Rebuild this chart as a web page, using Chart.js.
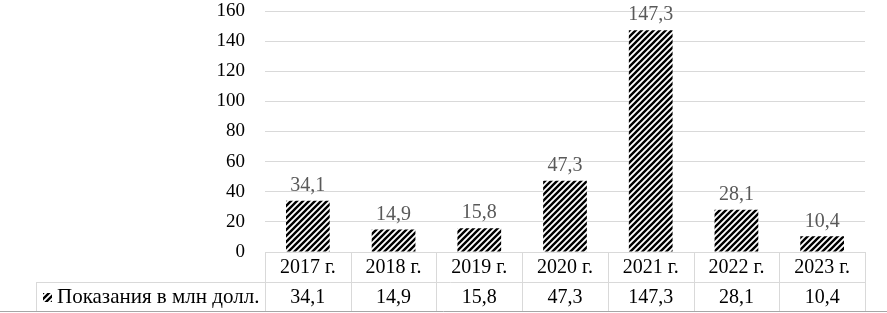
<!DOCTYPE html>
<html>
<head>
<meta charset="utf-8">
<script src="https://cdn.jsdelivr.net/npm/chart.js@4"></script>
<style>
  html, body { margin: 0; padding: 0; background: #fff; }
  #wrap { width: 887px; height: 313px; position: relative; }
</style>
</head>
<body>
<div id="wrap"><canvas id="chart_indications"></canvas></div>
<script>
// data
var years = ['2017 г.', '2018 г.', '2019 г.', '2020 г.', '2021 г.', '2022 г.', '2023 г.'];
var values = [34.1, 14.9, 15.8, 47.3, 147.3, 28.1, 10.4];
var seriesName = 'Показания в млн долл.';
var yTicks = [0, 20, 40, 60, 80, 100, 120, 140, 160];

var FONT = "'Liberation Serif', serif";
Chart.defaults.font.family = FONT;
Chart.defaults.font.size = 19;

function fmt(v) {
    return v.toFixed(1).replace('.', ',');
}

// black / white diagonal hatch, like the office "wide upward diagonal"
function makeHatch() {
    var c = document.createElement('canvas');
    c.width = 6; c.height = 6;
    var g = c.getContext('2d');
    g.fillStyle = '#fff';
    g.fillRect(0, 0, 6, 6);
    g.strokeStyle = '#000';
    g.lineWidth = 2.4;
    g.beginPath();
    g.moveTo(-1, 7); g.lineTo(7, -1);
    g.moveTo(-4, 4); g.lineTo(4, -4);
    g.moveTo(2, 10); g.lineTo(10, 2);
    g.stroke();
    return g.createPattern(c, 'repeat');
}
var hatch = makeHatch();

var tablePlugin = {
    id: 'dataTable',
    afterDraw: function (chart) {
        var ctx = chart.ctx;
        var area = chart.chartArea;
        var n = years.length;
        var cw = (area.right - area.left) / n;
        var r1top = area.bottom, r1bot = area.bottom + 30, r2bot = 311;
        var legLeft = 36;
        ctx.save();
        ctx.strokeStyle = '#d9d9d9';
        ctx.lineWidth = 1;
        ctx.beginPath();
        ctx.moveTo(area.left, r1top + 0.5); ctx.lineTo(area.right, r1top + 0.5);
        ctx.moveTo(legLeft, r1bot + 0.5); ctx.lineTo(area.right, r1bot + 0.5);
        for (var i = 0; i <= n; i++) {
            var x = Math.round(area.left + i * cw) + 0.5;
            ctx.moveTo(x, r1top); ctx.lineTo(x, r2bot);
        }
        ctx.moveTo(legLeft + 0.5, r1bot); ctx.lineTo(legLeft + 0.5, r2bot);
        ctx.stroke();

        // bottom rule
        ctx.strokeStyle = '#a6a6a6';
        ctx.beginPath();
        ctx.moveTo(0, r2bot + 0.5); ctx.lineTo(887, r2bot + 0.5);
        ctx.stroke();

        ctx.fillStyle = '#000';
        ctx.font = '20px ' + FONT;
        ctx.textAlign = 'center';
        ctx.textBaseline = 'middle';
        var xs = chart.scales.x;
        for (var j = 0; j < n; j++) {
            var cx = xs.getPixelForValue(j);
            ctx.fillText(years[j], cx, (r1top + r1bot) / 2 + 1);
            ctx.fillText(fmt(values[j]), cx, (r1bot + r2bot) / 2 + 1);
        }

        // legend key + name
        ctx.fillStyle = hatch;
        ctx.fillRect(43, 293, 9, 9);
        ctx.fillStyle = '#000';
        ctx.textAlign = 'left';
        ctx.font = '21px ' + FONT;
        ctx.fillText(seriesName, 57, (r1bot + r2bot) / 2 + 1);
        ctx.restore();
    }
};

var labelPlugin = {
    id: 'barLabels',
    afterDatasetsDraw: function (chart) {
        var ctx = chart.ctx;
        var meta = chart.getDatasetMeta(0);
        ctx.save();
        ctx.fillStyle = '#595959';
        ctx.font = '20px ' + FONT;
        ctx.textAlign = 'center';
        ctx.textBaseline = 'bottom';
        meta.data.forEach(function (bar, i) {
            ctx.fillText(fmt(values[i]), bar.x, bar.y - 5);
        });
        ctx.restore();
    }
};

var chart_indications = new Chart(document.getElementById('chart_indications'), {
    type: 'bar',
    data: {
        labels: years,
        datasets: [{
            label: seriesName,
            data: values,
            backgroundColor: hatch,
            borderWidth: 0,
            categoryPercentage: 1,
            barPercentage: 0.51
        }]
    },
    options: {
        animation: false,
        responsive: true,
        maintainAspectRatio: false,
        layout: {
            padding: { left: 0, right: 22, top: 0, bottom: 61 }
        },
        plugins: {
            legend: { display: false },
            tooltip: { enabled: false }
        },
        scales: {
            x: {
                display: false
            },
            y: {
                min: 0,
                max: 160,
                afterBuildTicks: function (scale) {
                    scale.ticks = yTicks.map(function (v) { return { value: v }; });
                },
                afterFit: function (scale) {
                    scale.width = 265;
                    scale.paddingTop = 11;
                },
                border: { display: false },
                grid: {
                    color: '#d9d9d9',
                    drawTicks: false
                },
                ticks: {
                    padding: 20,
                    color: '#000',
                    font: { family: FONT, size: 19 }
                }
            }
        }
    },
    plugins: [tablePlugin, labelPlugin, {
        id: 'whiteBg',
        beforeDraw: function (chart) {
            var ctx = chart.ctx;
            ctx.save();
            ctx.fillStyle = '#fff';
            ctx.fillRect(0, 0, chart.width, chart.height);
            ctx.restore();
        }
    }]
});
</script>
</body>
</html>
